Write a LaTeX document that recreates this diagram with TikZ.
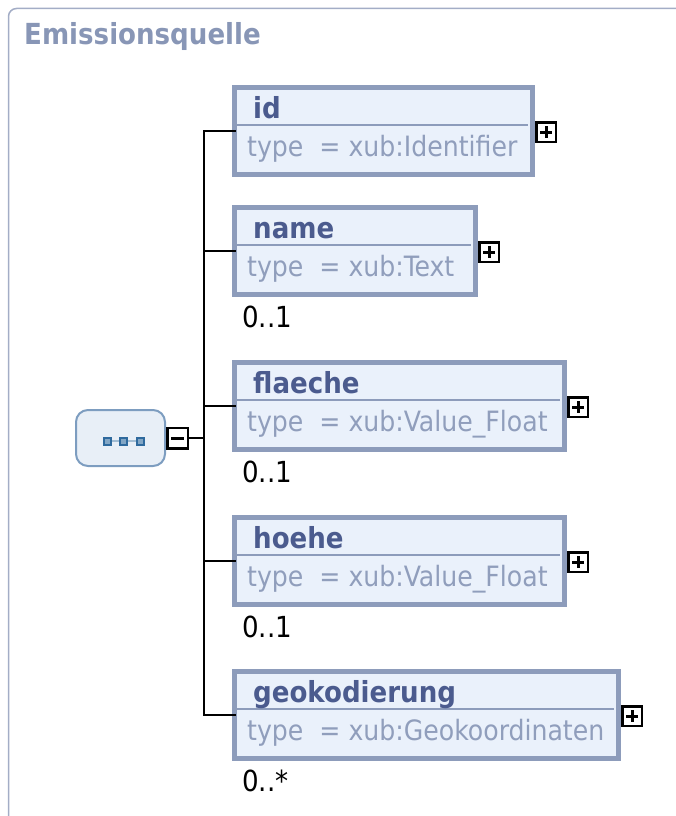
\documentclass[tikz,border=0pt]{standalone}
\usepackage{fontspec}
\setmainfont{DejaVu Sans Condensed}
\definecolor{framecol}{HTML}{A3ADC6}
\definecolor{titlecol}{HTML}{8896B6}
\definecolor{elemborder}{HTML}{8D9CBB}
\definecolor{elemfill}{HTML}{EAF1FB}
\definecolor{namecol}{HTML}{4B5B8E}
\definecolor{typecol}{HTML}{909EBC}
\definecolor{seqborder}{HTML}{7D9DC0}
\definecolor{seqfill}{HTML}{E8EFF7}
\definecolor{dotcol}{HTML}{2F6A9E}
\tikzset{
  elem/.style={draw=elemborder,fill=elemfill,line width=5pt,minimum height=87pt,inner sep=0pt,outer sep=0pt},
  elemname/.style={text=namecol,font=\fontsize{29}{29}\selectfont\bfseries,inner sep=0pt},
  elemtype/.style={text=typecol,font=\fontsize{28}{28}\selectfont,inner sep=0pt},
  mult/.style={font=\fontsize{29}{29}\selectfont,inner sep=0pt},
  sepline/.style={draw=elemborder,line width=2pt},
  plusbox/.style={draw=black,fill=white,line width=2.5pt,minimum size=19.5pt,inner sep=0pt},
  conn/.style={draw=black,line width=2pt}
}
\begin{document}
\begin{tikzpicture}[line cap=rect,line join=miter,x=1pt,y=-1pt]
\useasboundingbox (0,0) rectangle (676,816);
\draw[framecol,line width=1.5pt,rounded corners=8pt] (8.5,830) |- (690,8.5);
\node[text=titlecol,font=\fontsize{29}{29}\selectfont\bfseries,anchor=base west,inner sep=0pt] (title) at (24,45) {Emissionsquelle};
% sequence compositor
\node[draw=seqborder,fill=seqfill,line width=2pt,rounded corners=12pt,minimum width=89pt,minimum height=56pt] (seq) at (120.5,438) {};
\draw[dotcol!45,line width=2pt,dash pattern=on 3pt off 2pt] (107,441) -- (140,441);
\foreach \x in {107,123,140}
  \draw[dotcol,fill=dotcol!60,line width=2pt] (\x-3.5,437.5) rectangle (\x+3.5,444.5);
\node[plusbox,minimum size=20.5pt,anchor=west] (seqminus) at (seq.east) {};
\draw[black,line width=3pt] ([xshift=-5pt]seqminus.center) -- ([xshift=5pt]seqminus.center);
\coordinate (join) at (204,438);
\draw[conn] (seqminus.east) -- (join);
% child elements
\foreach \n/\y/\w/\t/\m in {id/85/303/Identifier/,name/205/246/Text/0..1,flaeche/360/335/Value\_Float/0..1,hoehe/515/335/Value\_Float/0..1,geokodierung/669/389/Geokoordinaten/0..*}{
  \node[elem,minimum width=\w-5,anchor=north west] (\n) at (234.5,\y+2.5) {};
  \draw[conn] (join) |- (\n.west);
  \draw[sepline] (237,\y+40) -- (232+\w-8,\y+40);
  \node[elemname,anchor=base west] (\n-label) at (253,\y+33) {\n};
  \node[elemtype,anchor=base west] (\n-type) at (247,\y+71) {type~~= xub:\t};
  \node[mult,anchor=base west] (\n-mult) at (242,\y+122) {\m};
  \node[plusbox,anchor=west] (\n-plus) at ([xshift=2.5pt,yshift=-1pt]\n.east) {};
  \draw[black,line width=3pt] ([xshift=-4.5pt]\n-plus.center) -- ([xshift=4.5pt]\n-plus.center)
    ([yshift=-4.5pt]\n-plus.center) -- ([yshift=4.5pt]\n-plus.center);
}
\end{tikzpicture}
\end{document}
